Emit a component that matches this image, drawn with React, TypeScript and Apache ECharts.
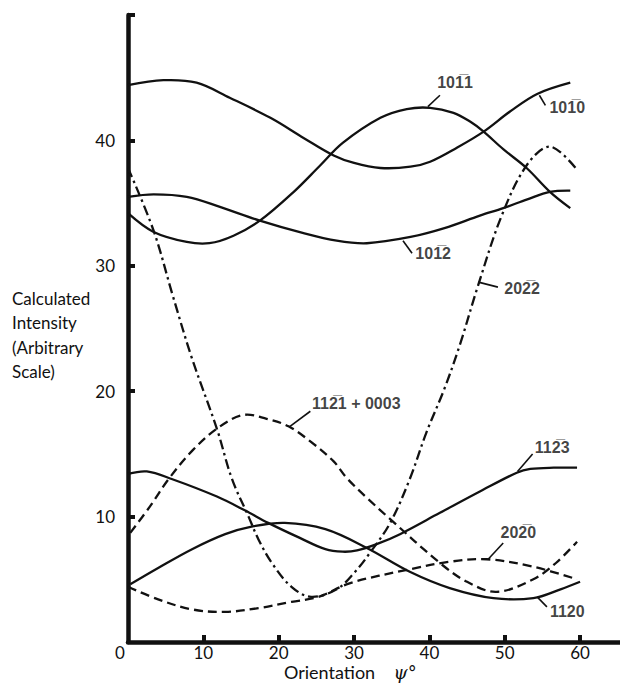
import React, { useEffect, useRef } from "react";
import * as echarts from "echarts";

// Orientation psi (deg) vs calculated intensity
const s1010: [number, number][] = [
  [0, 44.4], [4.7, 44.8], [9.1, 44.6], [13.5, 43.4], [18.9, 41.8], [23.3, 40.2],
  [27.3, 38.8], [30, 38.2], [33.5, 37.8], [37.5, 37.9], [40.1, 38.3], [43.6, 39.4],
  [47.2, 40.7], [50.7, 42.3], [54.3, 43.7], [58.7, 44.6],
];
const s1011: [number, number][] = [
  [0, 34.2], [3.4, 32.7], [7.8, 31.9], [10.8, 31.8], [14, 32.4], [17.5, 33.6],
  [22, 35.9], [25.5, 38.0], [28.5, 39.8], [33.5, 41.8], [37, 42.5], [40.1, 42.6],
  [43.2, 42.2], [45.4, 41.5], [47.2, 40.7], [49.8, 39.3], [52.9, 37.8],
  [56, 35.9], [58.7, 34.6],
];
const s1012: [number, number][] = [
  [0, 35.5], [3.4, 35.7], [7.8, 35.5], [12.2, 34.7], [17.5, 33.6], [23.3, 32.6],
  [27.7, 32.0], [31.7, 31.8], [37.5, 32.3], [42, 33.0], [46.7, 34.0], [49.8, 34.6],
  [53, 35.3], [56, 35.9], [58.7, 36.0],
];
const s2022: [number, number][] = [
  [0, 37.8], [3.4, 32.8], [6, 27.5], [8.5, 22.6], [11.8, 17.0], [13.8, 13.0],
  [16, 10.0], [17.3, 8.2], [19.1, 6.3], [21.7, 4.4], [24.3, 3.6], [27.7, 4.2],
  [30, 5.5], [32.1, 7.1], [34.8, 9.5], [37.4, 13.0], [39.6, 16.7], [42, 20.2],
  [44.1, 23.8], [46.5, 28.5], [49.6, 34.0], [52.9, 38.0], [56, 39.5], [59.4, 37.8],
];
const s1121: [number, number][] = [
  [0.3, 8.7], [2.9, 10.8], [5.4, 13.0], [8.6, 15.3], [12, 17.1], [15.3, 18.1],
  [18.4, 17.8], [21.3, 17.2], [24.2, 16.0], [27.3, 14.4], [29, 13.1], [31.7, 11.5],
  [34.8, 9.8], [41.4, 6.3], [45, 4.8], [48.9, 4.0], [53.8, 5.0], [56.8, 6.3],
  [59.6, 8.0],
];
const s2020: [number, number][] = [
  [0, 4.4], [4, 3.4], [8.5, 2.6], [12.9, 2.4], [17.3, 2.7], [21.7, 3.2],
  [25.3, 3.6], [29.5, 4.7], [37.4, 5.8], [42.7, 6.4], [47.6, 6.6], [53.8, 6.0],
  [59.6, 5.0],
];
const s1123: [number, number][] = [
  [0, 13.4], [2.5, 13.6], [5.8, 13.0], [11.8, 11.6], [15.5, 10.5], [18.6, 9.5],
  [22.8, 8.3], [26.2, 7.4], [28.5, 7.2], [30.4, 7.3], [33, 7.8], [36.1, 8.6],
  [41.4, 10.3], [46.7, 12.0], [51.6, 13.5], [53.4, 13.8], [56.5, 13.9], [59.6, 13.9],
];
const s1120: [number, number][] = [
  [0.3, 4.6], [4, 5.9], [8.5, 7.4], [12.9, 8.6], [16.4, 9.2], [20.8, 9.5],
  [26.2, 9.0], [31.7, 7.5], [37.4, 5.6], [42.7, 4.3], [48.5, 3.5],
  [53.8, 3.5], [57.4, 4.2], [60, 4.8],
];

const xTickValues = [10, 20, 30, 40, 50, 60];
const xLabelValues = [0, 10, 20, 30, 40, 50, 60];
const yTickValues = [10, 20, 30, 40, 50];
const yLabelValues = [10, 20, 30, 40];

// annotation texts and their anchors (data units)
const annotTexts = [
  "101\u03051", "101\u03050", "101\u03052", "202\u03052",
  "112\u03051 + 0003", "112\u03053", "202\u03050", "1120",
];
const annotAnchors: [number, number][] = [
  [43.4, 44.6], [58.3, 42.6], [40.5, 31.0], [52.3, 28.2],
  [30.3, 19.0], [56.3, 15.5], [51.8, 8.7], [58.3, 2.4],
];
const leaders: [number, number, number, number][] = [
  [39.8, 42.7, 41.4, 43.6],
  [54.6, 43.6, 55.4, 42.8],
  [36.5, 32.0, 37.7, 31.0],
  [46.5, 28.7, 49.1, 28.3],
  [21.5, 17.2, 24.2, 18.4],
  [51.7, 13.6, 53.7, 15.0],
  [47.8, 6.6, 49.8, 7.9],
  [54.3, 3.6, 55.6, 2.8],
];

const INK = "#111";
const SOLID: number[] | null = null;
const DASHED = [9, 5];
const DASHDOT = [10, 4, 2.5, 4];

// a smooth curve drawn through the data with the library's coordinate conversion
function curve(name: string, pts: [number, number][], dash: number[] | null) {
  return {
    type: "custom",
    name,
    silent: true,
    coordinateSystem: "cartesian2d",
    data: [pts[0]],
    renderItem: (_params: any, api: any) => ({
      type: "polyline",
      shape: { points: pts.map((p) => api.coord(p)), smooth: 0.35 },
      style: {
        stroke: INK,
        lineWidth: 2.3,
        fill: "none",
        lineDash: dash || undefined,
        lineCap: "butt",
        lineJoin: "round",
      },
    }),
  };
}

export default function App() {
  const ref = useRef<HTMLDivElement>(null);
  useEffect(() => {
    if (!ref.current) return;
    const chart = echarts.init(ref.current, null, { renderer: "svg" });
    const option: any = {
      animation: false,
      backgroundColor: "#fff",
      grid: { left: 128, right: 0, top: 15, bottom: 45 },
      xAxis: {
        type: "value",
        min: 0,
        max: 65.3,
        interval: 10,
        splitLine: { show: false },
        axisLine: { show: true, onZero: false, lineStyle: { color: INK, width: 4.5 } },
        axisTick: {
          show: true,
          inside: true,
          length: 7,
          customValues: xTickValues,
          lineStyle: { color: INK, width: 4 },
        },
        axisLabel: {
          customValues: xLabelValues,
          color: INK,
          fontSize: 17,
          lineHeight: 17,
          fontFamily: "Lato",
          margin: 2,
          formatter: (v: number) => (v === 0 ? "{z|0}" : String(v)),
          rich: { z: { fontSize: 17, lineHeight: 17, fontFamily: "Lato", color: INK, padding: [0, 16, 0, 0] } },
        },
      },
      yAxis: {
        type: "value",
        min: 0,
        max: 50,
        interval: 10,
        splitLine: { show: false },
        axisLine: { show: true, onZero: false, lineStyle: { color: INK, width: 4.5 } },
        axisTick: {
          show: true,
          inside: true,
          length: 7,
          customValues: yTickValues,
          lineStyle: { color: INK, width: 4 },
        },
        axisLabel: {
          customValues: yLabelValues,
          color: INK,
          fontSize: 17,
          fontFamily: "Lato",
          margin: 13,
        },
      },
      graphic: [
        {
          type: "text",
          left: 12,
          top: 286,
          style: {
            text: "Calculated\nIntensity\n(Arbitrary\nScale)",
            fill: INK,
            font: "17px Lato",
            lineHeight: 24.5,
          },
        },
        {
          type: "text",
          left: 284,
          top: 663,
          style: {
            text: "{a|Orientation}    {b|\u03C8\u00B0}",
            fill: INK,
            font: "18px Lato",
            rich: {
              a: { fontSize: 18, fontFamily: "Lato", fill: INK },
              b: { fontSize: 18, fontFamily: "DejaVu Serif", fontStyle: "italic", fill: INK },
            },
          },
        },
      ],
      series: [
        curve("10-10", s1010, SOLID),
        curve("10-11", s1011, SOLID),
        curve("10-12", s1012, SOLID),
        curve("20-22", s2022, DASHDOT),
        curve("11-21 + 0003", s1121, DASHED),
        curve("20-20", s2020, DASHED),
        curve("11-23", s1123, SOLID),
        curve("1120", s1120, SOLID),
        {
          type: "lines",
          coordinateSystem: "cartesian2d",
          silent: true,
          symbol: "none",
          lineStyle: { color: INK, width: 1.6, opacity: 1 },
          data: leaders.map((l) => ({ coords: [[l[0], l[1]], [l[2], l[3]]] })),
        },
        {
          type: "scatter",
          silent: true,
          symbolSize: 1,
          itemStyle: { color: "rgba(0,0,0,0)" },
          data: annotAnchors.map((a, i) => ({ value: a, name: annotTexts[i] })),
          label: {
            show: true,
            position: "inside",
            formatter: "{b}",
            color: INK,
            fontSize: 16,
            fontWeight: "bold",
            fontFamily: "Liberation Sans",
          },
        },
      ],
    };
    chart.setOption(option);
    return () => chart.dispose();
  }, []);
  return (
    <div
      ref={ref}
      style={{ position: "fixed", left: 0, top: 0, width: 620, height: 687, background: "#fff" }}
    />
  );
}
